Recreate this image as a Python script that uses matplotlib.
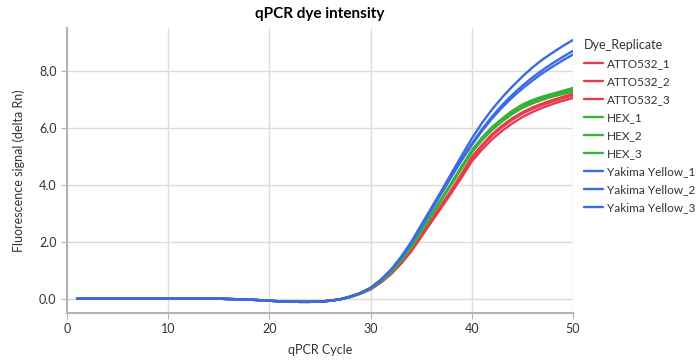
import numpy as np
import matplotlib.pyplot as plt

plt.rcParams['font.family'] = ['Lato', 'DejaVu Sans']

# qPCR cycles
cycles = list(range(1, 51))

# shared baseline, cycles 1-27
baseline = [0.02, 0.02, 0.02, 0.02, 0.02, 0.02, 0.02, 0.02, 0.02, 0.02,
            0.02, 0.02, 0.02, 0.02, 0.02, 0.01, 0.0, -0.01, -0.03, -0.05,
            -0.07, -0.08, -0.09, -0.09, -0.08, -0.05, 0.0]

# cycles 28-50 for each replicate
atto_1 = [0.08, 0.2, 0.36, 0.6, 0.9, 1.28, 1.72, 2.25, 2.78, 3.3, 3.84, 4.4,
          4.98, 5.4, 5.78, 6.08, 6.34, 6.55, 6.72, 6.86, 6.98, 7.09, 7.2]
atto_2 = [0.08, 0.2, 0.36, 0.6, 0.89, 1.27, 1.71, 2.23, 2.76, 3.28, 3.81, 4.37,
          4.94, 5.36, 5.73, 6.03, 6.29, 6.5, 6.67, 6.81, 6.93, 7.04, 7.14]
atto_3 = [0.08, 0.2, 0.35, 0.58, 0.87, 1.24, 1.67, 2.18, 2.7, 3.21, 3.73, 4.27,
          4.83, 5.24, 5.6, 5.9, 6.16, 6.38, 6.56, 6.71, 6.84, 6.95, 7.05]
hex_1 = [0.08, 0.21, 0.38, 0.63, 0.95, 1.36, 1.85, 2.4, 2.96, 3.52, 4.09, 4.66,
         5.22, 5.66, 6.03, 6.33, 6.6, 6.82, 6.98, 7.1, 7.2, 7.3, 7.4]
hex_2 = [0.08, 0.21, 0.38, 0.63, 0.94, 1.35, 1.83, 2.38, 2.93, 3.49, 4.06, 4.62,
         5.18, 5.61, 5.97, 6.27, 6.53, 6.75, 6.91, 7.04, 7.14, 7.24, 7.33]
hex_3 = [0.08, 0.21, 0.38, 0.62, 0.94, 1.34, 1.82, 2.36, 2.91, 3.47, 4.03, 4.59,
         5.14, 5.57, 5.93, 6.23, 6.49, 6.7, 6.86, 6.99, 7.1, 7.19, 7.28]
yak_1 = [0.1, 0.22, 0.4, 0.68, 1.03, 1.48, 2.0, 2.6, 3.2, 3.8, 4.42, 5.03,
         5.63, 6.17, 6.65, 7.07, 7.45, 7.8, 8.12, 8.4, 8.64, 8.87, 9.08]
yak_2 = [0.1, 0.22, 0.4, 0.67, 1.02, 1.46, 1.97, 2.55, 3.14, 3.73, 4.32, 4.9,
         5.45, 5.95, 6.4, 6.8, 7.16, 7.48, 7.77, 8.03, 8.27, 8.49, 8.7]
yak_3 = [0.1, 0.22, 0.4, 0.67, 1.01, 1.44, 1.95, 2.53, 3.12, 3.71, 4.3, 4.87,
         5.4, 5.89, 6.33, 6.72, 7.07, 7.38, 7.66, 7.92, 8.15, 8.37, 8.57]

names = ['ATTO532_1', 'ATTO532_2', 'ATTO532_3', 'HEX_1', 'HEX_2', 'HEX_3',
         'Yakima Yellow_1', 'Yakima Yellow_2', 'Yakima Yellow_3']
series = [atto_1, atto_2, atto_3, hex_1, hex_2, hex_3, yak_1, yak_2, yak_3]
colors = ['#e63c4e'] * 3 + ['#37b137'] * 3 + ['#3a6be3'] * 3

fig = plt.figure(figsize=(6.98, 3.6), dpi=100)
ax = fig.add_axes([67/698, 1 - 313/360, 506/698, 285/360])

for name, tail, c in zip(names, series, colors):
    ax.plot(cycles, baseline + tail, color=c, linewidth=1.7, label=name,
            solid_capstyle='round')

ax.set_xlim(0, 50)
ax.set_ylim(-0.48, 9.5)
ax.set_xticks([0, 10, 20, 30, 40, 50])
ax.set_yticks([0, 2, 4, 6, 8])
ax.set_yticklabels(['0.0', '2.0', '4.0', '6.0', '8.0'])
ax.grid(color='#dcdcdc', linewidth=1)
ax.set_axisbelow(True)
for s in ['top', 'right']:
    ax.spines[s].set_visible(False)
for s in ['left', 'bottom']:
    ax.spines[s].set_color('#b4b4b4')
    ax.spines[s].set_linewidth(1.5)
ax.tick_params(colors='#b4b4b4', labelcolor='#333333', labelsize=9, length=4)

ax.set_title('qPCR dye intensity', fontsize=11, fontweight='bold', pad=7)
ax.set_xlabel('qPCR Cycle', fontsize=9, color='#333333', labelpad=6)
ax.set_ylabel('Fluorescence signal (delta Rn)', fontsize=9, color='#333333', labelpad=10)

leg = ax.legend(loc='upper left', bbox_to_anchor=(1.0, 1.0), frameon=False,
                title='Dye_Replicate', fontsize=8.5, title_fontsize=9,
                handlelength=1.6, handletextpad=0.4, labelspacing=0.6,
                borderaxespad=0.6, borderpad=0.3)
leg._legend_box.align = 'left'
for t in leg.get_texts():
    t.set_color('#333333')
leg.get_title().set_color('#333333')

plt.savefig('out.png', dpi=100)
